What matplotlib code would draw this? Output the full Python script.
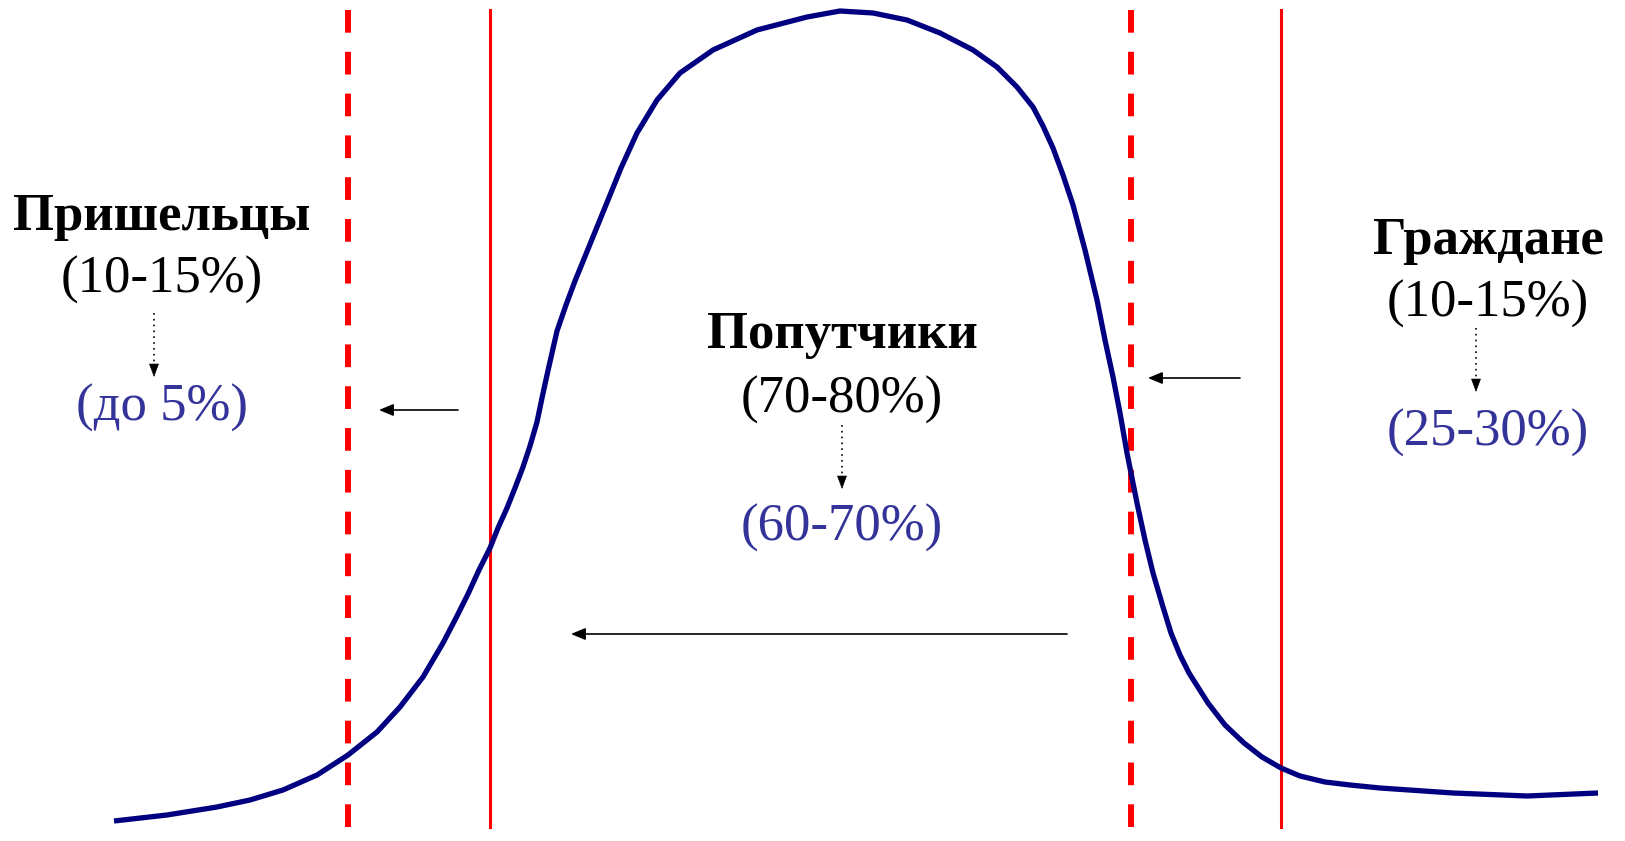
import matplotlib.pyplot as plt
from matplotlib.patches import FancyArrowPatch

# Curve (x, y in pixel space, y grows downward)
curve_x = [114, 167, 217, 250, 283, 317, 348, 377, 400, 423, 443, 456,
           468, 479, 490, 498, 507, 515, 523, 530, 537, 542, 547, 552, 557,
           566, 575, 586, 597, 608, 621, 637, 657, 680, 713, 757, 807, 840,
           873, 907, 940, 973, 997, 1017, 1033, 1043, 1053, 1063, 1073, 1085,
           1097, 1105, 1113, 1120, 1127, 1137, 1145, 1153, 1163, 1171, 1180,
           1189, 1208, 1225, 1244, 1262, 1281, 1300, 1325, 1350, 1380, 1453,
           1527, 1598]
curve_y = [821, 815, 807, 800, 790, 775, 755, 732, 707, 677, 643, 618,
           594, 570, 548, 528, 508, 488, 467, 446, 422, 398, 375, 353, 331,
           305, 281, 254, 227, 200, 168, 133, 100, 73, 50, 30, 17, 11,
           13, 20, 33, 50, 67, 87, 107, 126, 148, 175, 205, 250,
           300, 340, 377, 413, 453, 503, 540, 573, 607, 633, 655,
           673, 703, 725, 743, 757, 768, 776, 782, 785, 788, 793,
           796, 793]

# Boundaries
dashed_x = [348, 1131]
solid_x = [490, 1281]

# Group labels
names = ["Пришельцы", "Попутчики", "Граждане"]
before = ["(10-15%)", "(70-80%)", "(10-15%)"]
after = ["(до 5%)", "(60-70%)", "(25-30%)"]
label_x = [162, 842, 1488]
name_y = [230, 348, 254]
before_y = [293, 413, 317]
after_y = [421, 541, 446]
dot_x = [154, 842, 1476]
dot_y0 = [313, 425, 328]
dot_y1 = [377, 489, 392]

# Shift arrows (tail -> tip)
shift_tail = [(458, 410), (1240, 378), (1067, 634)]
shift_tip = [(379, 410), (1148, 378), (571, 634)]

navy = "#000080"
red = "#FF0000"
blue = "#333399"
font = "Liberation Serif"

fig = plt.figure(figsize=(16.25, 8.41), dpi=100)
ax = fig.add_axes([0, 0, 1, 1])
ax.set_xlim(0, 1625)
ax.set_ylim(841, 0)
ax.axis("off")

for x in dashed_x:
    ax.plot([x, x], [10, 832], color=red, lw=4.3, linestyle=(0, (3.8, 3.2)),
            solid_capstyle="butt", dash_capstyle="butt")
for x in solid_x:
    ax.plot([x, x], [10, 827], color=red, lw=2.2)

ax.plot(curve_x, curve_y, color=navy, lw=3.8, solid_joinstyle="round",
        solid_capstyle="butt")

for i in range(3):
    ax.text(label_x[i], name_y[i], names[i], ha="center", va="baseline",
            fontsize=38, fontweight="bold", family=font, color="black")
    ax.text(label_x[i], before_y[i], before[i], ha="center", va="baseline",
            fontsize=38, family=font, color="black")
    ax.text(label_x[i], after_y[i], after[i], ha="center", va="baseline",
            fontsize=38, family=font, color=blue)
    # dotted arrow
    ax.plot([dot_x[i], dot_x[i]], [dot_y0[i], dot_y1[i] - 10], color="black",
            lw=1.2, linestyle=(0, (1, 2.5)))
    ax.add_patch(FancyArrowPatch((dot_x[i], dot_y1[i] - 12), (dot_x[i], dot_y1[i]),
                                 arrowstyle="-|>,head_length=8.6,head_width=3.2",
                                 mutation_scale=1, color="black", lw=0.5,
                                 shrinkA=0, shrinkB=0))

for tail, tip in zip(shift_tail, shift_tip):
    ax.add_patch(FancyArrowPatch(tail, tip,
                                 arrowstyle="-|>,head_length=8.6,head_width=3.6",
                                 mutation_scale=1, color="black", lw=1.2,
                                 shrinkA=0, shrinkB=0))

fig.savefig("out.png", dpi=100)
